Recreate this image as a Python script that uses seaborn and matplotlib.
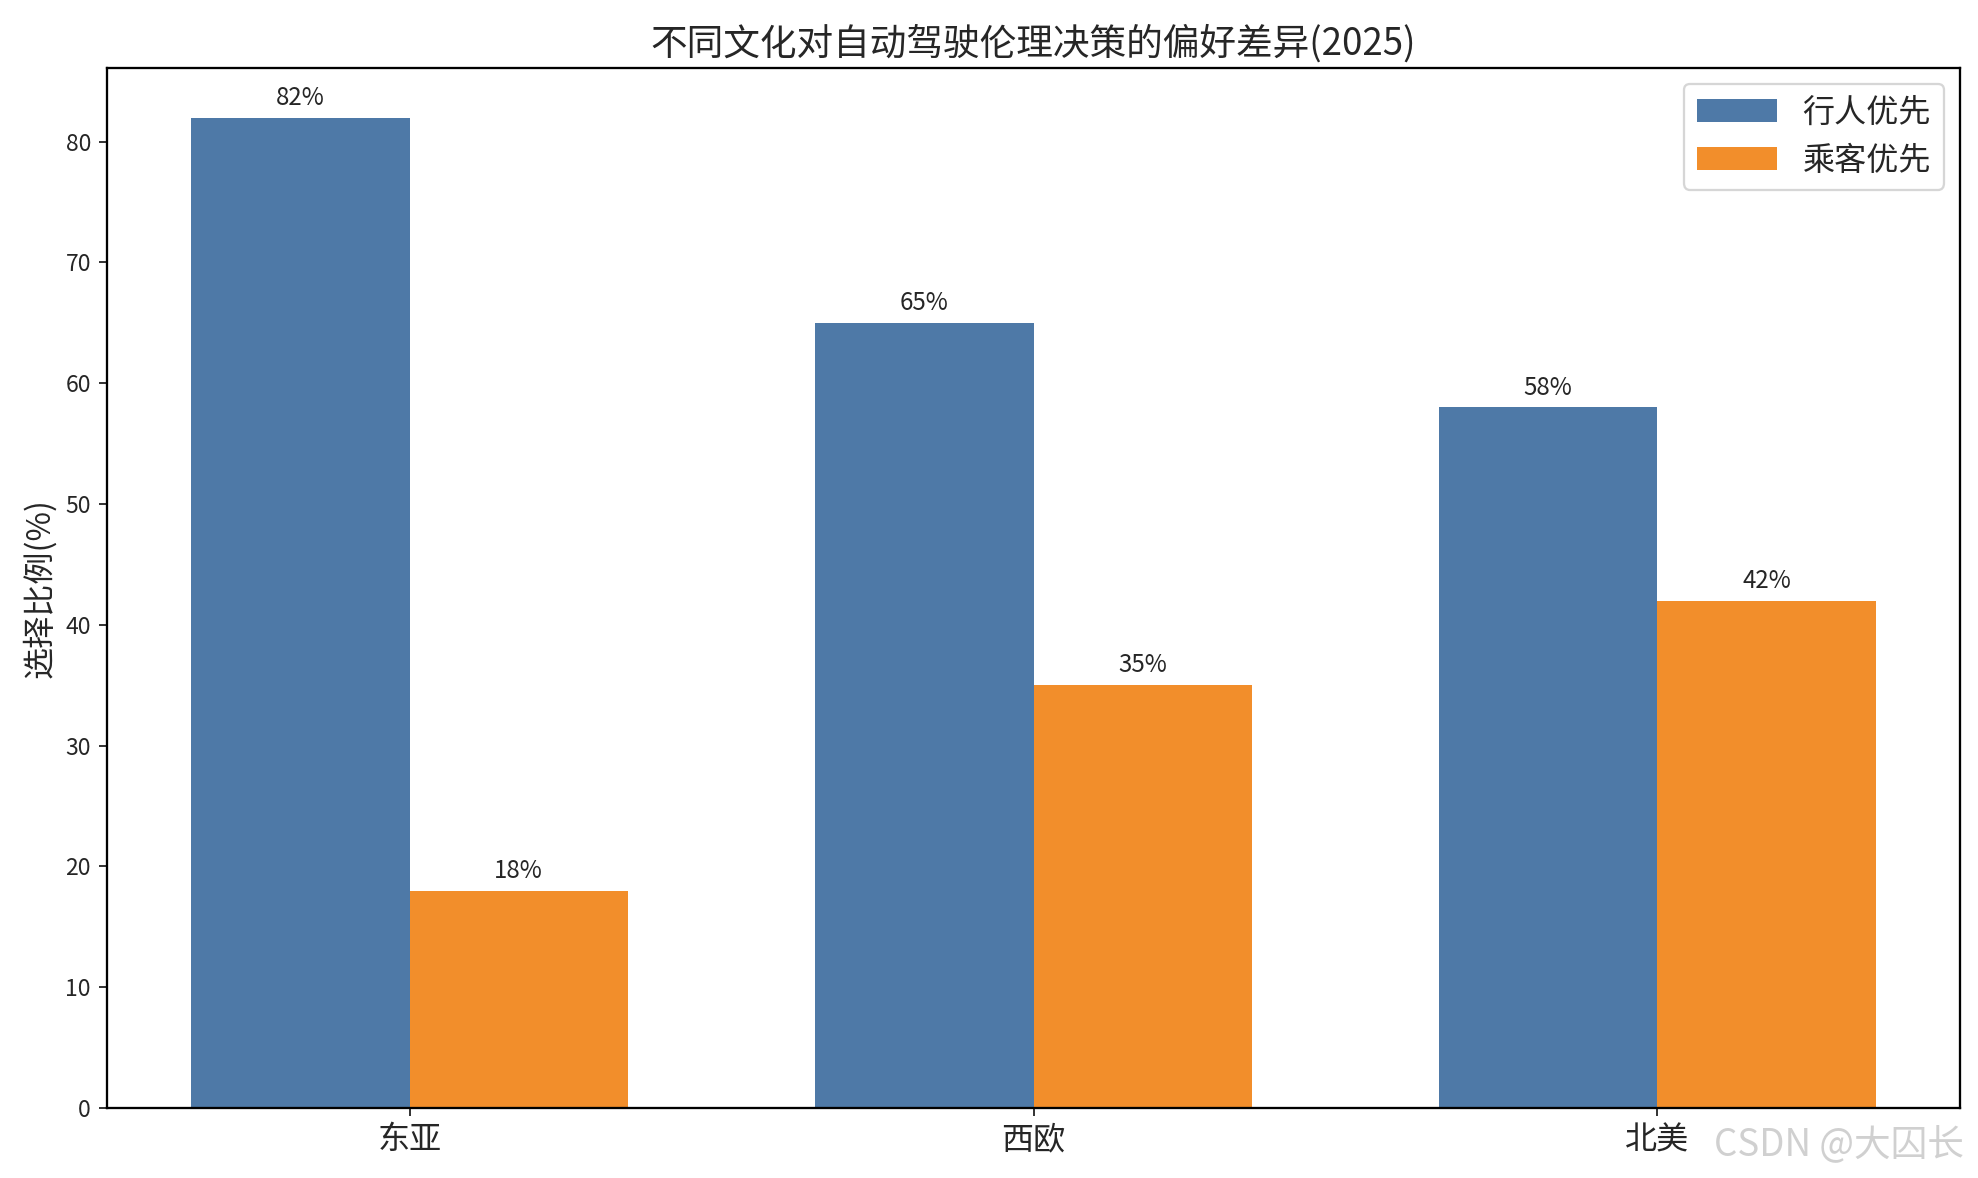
import matplotlib
matplotlib.use("Agg")
import matplotlib.pyplot as plt
import seaborn as sns
import pandas as pd

regions = ["东亚", "西欧", "北美"]
series_names = ["行人优先", "乘客优先"]
pedestrian = [82, 65, 58]
passenger = [18, 35, 42]
colors = ["#4e79a7", "#f28e2b"]

sns.set_style("white")
plt.rcParams['font.family'] = ['Noto Sans CJK SC', 'DejaVu Sans']
plt.rcParams['axes.unicode_minus'] = False

df = pd.DataFrame({
    "地区": regions * 2,
    "类型": [series_names[0]] * 3 + [series_names[1]] * 3,
    "比例": pedestrian + passenger,
})

W, H = 1978, 1178
fig = plt.figure(figsize=(W / 165, H / 165), dpi=165)
ax = fig.add_axes([107 / W, 1 - 1108 / H, (1960 - 107) / W, (1108 - 68) / H])

sns.barplot(data=df, x="地区", y="比例", hue="类型", palette=colors,
            width=0.7, saturation=1, ax=ax, errorbar=None, linewidth=0)

for c in ax.containers:
    ax.bar_label(c, fmt="%d%%", padding=3, fontsize=10.5)

ax.set_title("不同文化对自动驾驶伦理决策的偏好差异(2025)", fontsize=16)
ax.set_ylabel("选择比例(%)", fontsize=14)
ax.set_xlabel("")
ax.tick_params(axis='x', labelsize=14, bottom=True, length=3.5)
ax.tick_params(axis='y', labelsize=10, left=True, length=3.5)
for s in ax.spines.values():
    s.set_color("black")
    s.set_linewidth(1.0)
ax.set_ylim(0, 86.1)
ax.set_xlim(-0.485, 2.485)

leg = ax.legend(loc="upper right", fontsize=14, frameon=True, handlelength=2.5, title=None)
leg.get_frame().set_edgecolor("#cccccc")

fig.text(0.993, 0.028, "CSDN @大囚长", ha="right", va="center", fontsize=16,
         color="#d0d0d0")

fig.savefig("out.png", dpi=165)
